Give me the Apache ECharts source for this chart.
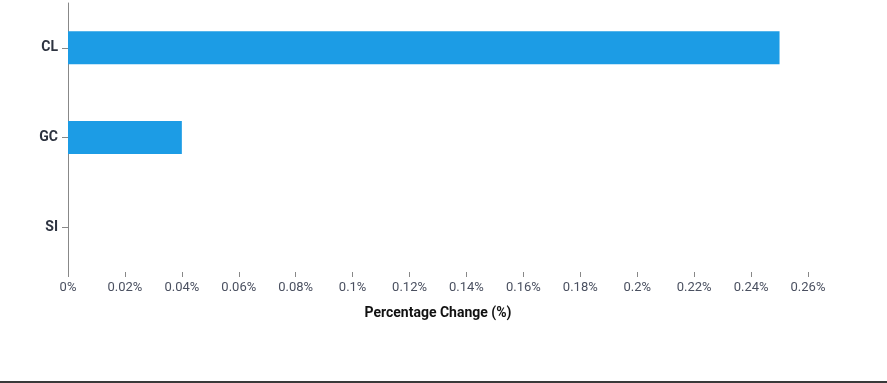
<!DOCTYPE html>
<html lang="en">
<head>
    <meta charset="UTF-8"/>
    <title>Percentage Change</title>
    <style>
        * {
            padding: 0;
            margin: 0;
        }

        body {
            background-color: white;
            width: 887px;
            height: 383px;
            overflow: hidden;
        }

        #chart {
            width: 887px;
            height: 381px;
            border-bottom: 2px solid #3a3a3a;
        }
    </style>
    <script src="https://cdn.jsdelivr.net/npm/echarts@6/dist/echarts.min.js"></script>
</head>
<body>
<div id="chart"></div>
<script>
    const symbols = ['CL', 'GC', 'SI']
    const changes = [0.25, 0.04, 0]
    const tickLabels = ['0%', '0.02%', '0.04%', '0.06%', '0.08%', '0.1%', '0.12%', '0.14%', '0.16%', '0.18%', '0.2%', '0.22%', '0.24%', '0.26%']

    var chart = echarts.init(document.getElementById('chart'))

    chart.setOption({
        animation: false,
        grid: {
            left: 68,
            right: 79,
            top: 3,
            height: 269,
            containLabel: false
        },
        xAxis: {
            type: 'value',
            min: 0,
            max: 0.26,
            interval: 0.02,
            name: 'Percentage Change (%)',
            nameLocation: 'middle',
            nameGap: 34,
            nameTextStyle: {
                fontFamily: 'Roboto',
                fontWeight: 'bold',
                fontSize: 14,
                color: '#111'
            },
            splitLine: {show: false},
            axisLine: {lineStyle: {color: '#888', width: 1}},
            axisTick: {show: true, length: 5, lineStyle: {color: '#888'}},
            axisLabel: {
                fontFamily: 'Roboto',
                fontSize: 13,
                color: '#4a5060',
                margin: 9,
                formatter: (v) => tickLabels[Math.round(v / 0.02)]
            }
        },
        yAxis: {
            type: 'category',
            data: symbols,
            inverse: true,
            axisLine: {lineStyle: {color: '#888', width: 1}},
            axisTick: {show: true, length: 6, alignWithLabel: true, lineStyle: {color: '#888'}},
            axisLabel: {
                fontFamily: 'Roboto',
                fontWeight: 'bold',
                fontSize: 14,
                color: '#2d3340',
                margin: 10
            }
        },
        series: [
            {
                type: 'bar',
                data: changes,
                barWidth: 33,
                itemStyle: {color: '#1c9ce5'}
            }
        ]
    })
</script>
</body>
</html>
